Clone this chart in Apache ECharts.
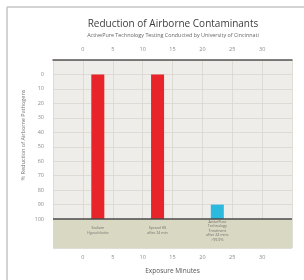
<!DOCTYPE html>
<html>
<head>
<meta charset="utf-8">
<script src="https://cdn.jsdelivr.net/npm/echarts@6/dist/echarts.min.js"></script>
<style>
html,body{margin:0;padding:0;background:#fff;}
#chart{width:304px;height:280px;}
</style>
</head>
<body>
<div id="chart"></div>
<script>
// data
var categories = ['Sodium\nHypochlorite', 'Spread HS\nafter 24 min', 'ActivePure\nTechnology\nTreatment\nafter 24 mins\n>99.9%'];
var minutes = [2.5, 12.5, 22.5];        // x position of each bar (exposure minutes)
var barTop = [0, 0, 90];                // bar end on the inverted % axis (bars run down to 100)
var barColors = ['#e8232a', '#e8232a', '#2bb9de'];
var xTicks = [0, 5, 10, 15, 20, 25, 30];
var yTicks = [0, 10, 20, 30, 40, 50, 60, 70, 80, 90, 100];

var chart = echarts.init(document.getElementById('chart'));

var barData = minutes.map(function (m, i) { return [m, barTop[i], 100]; });
var labelData = minutes.map(function (m, i) { return { value: [m, 108], name: categories[i] }; });

var tickFont = { fontSize: 5.5, color: '#8a8a8a', fontFamily: 'Open Sans' };
function xLabel(v) { return xTicks.indexOf(v) >= 0 ? String(v) : ''; }

function renderBar(params, api) {
    var top = api.coord([api.value(0), api.value(1)]);
    var bottom = api.coord([api.value(0), api.value(2)]);
    var w = 13;
    return {
        type: 'rect',
        shape: { x: top[0] - w / 2, y: top[1], width: w, height: bottom[1] - top[1] },
        style: { fill: barColors[params.dataIndex] }
    };
}

var option = {
    animation: false,
    grid: {
        left: 53, right: 12, top: 60, bottom: 30,
        show: true, backgroundColor: '#efedea', borderWidth: 0
    },
    graphic: [
        { type: 'line', shape: { x1: 7, y1: 7, x2: 7, y2: 280 }, style: { stroke: '#c4c4c4', lineWidth: 1.5 } },
        { type: 'line', shape: { x1: 7, y1: 7, x2: 304, y2: 7 }, style: { stroke: '#c4c4c4', lineWidth: 1.5 } },
        { type: 'text', x: 173, y: 24, style: { text: 'Reduction of Airborne Contaminants', fontSize: 10, fill: '#3c3c3c', fontFamily: 'Open Sans', align: 'center', verticalAlign: 'middle' } },
        { type: 'text', x: 173, y: 35, style: { text: 'ActivePure Technology Testing Conducted by University of Cincinnati', fontSize: 5.4, fill: '#666', fontFamily: 'Open Sans', align: 'center', verticalAlign: 'middle' } },
        { type: 'text', x: 23, y: 135, rotation: Math.PI / 2, style: { text: '% Reduction of Airborne Pathogens', fontSize: 5.5, fill: '#777', fontFamily: 'Open Sans', align: 'center', verticalAlign: 'middle' } }
    ],
    xAxis: [
        {
            type: 'value', position: 'bottom', min: -5, max: 35, interval: 5,
            name: 'Exposure Minutes', nameLocation: 'middle', nameGap: 20,
            nameTextStyle: { fontSize: 6.5, color: '#555', fontFamily: 'Open Sans' },
            axisLine: { show: false }, axisTick: { show: false },
            axisLabel: Object.assign({ margin: 6, formatter: xLabel }, tickFont),
            splitLine: { show: true, lineStyle: { color: '#d9d6cf', width: 0.8 } }
        },
        {
            type: 'value', position: 'top', min: -5, max: 35, interval: 5,
            axisLine: { show: true, lineStyle: { color: '#555', width: 1.5 } },
            axisTick: { show: false },
            axisLabel: Object.assign({ margin: 8, formatter: xLabel }, tickFont),
            splitLine: { show: false }
        }
    ],
    yAxis: {
        type: 'value', inverse: true, min: -10, max: 120, interval: 10,
        axisLine: { show: false }, axisTick: { show: false },
        axisLabel: Object.assign({
            margin: 9,
            formatter: function (v) { return yTicks.indexOf(v) >= 0 ? String(v) : ''; }
        }, tickFont),
        splitLine: { show: true, lineStyle: { color: '#d9d6cf', width: 0.8 } }
    },
    series: [
        {
            type: 'custom', renderItem: renderBar,
            encode: { x: 0, y: [1, 2] },
            data: barData,
            markArea: {
                silent: true,
                itemStyle: { color: '#d9d8c3' },
                data: [[{ yAxis: 100 }, { yAxis: 120 }]]
            },
            markLine: {
                silent: true, symbol: 'none', label: { show: false },
                lineStyle: { color: '#4a4a4a', width: 1.5, type: 'solid' },
                data: [{ yAxis: 100 }]
            }
        },
        {
            type: 'scatter', symbolSize: 0, silent: true,
            label: {
                show: true, position: 'inside', formatter: '{b}',
                fontSize: 3.6, lineHeight: 4.5, color: '#555', fontFamily: 'Open Sans'
            },
            data: labelData
        }
    ]
};
chart.setOption(option);
</script>
</body>
</html>
